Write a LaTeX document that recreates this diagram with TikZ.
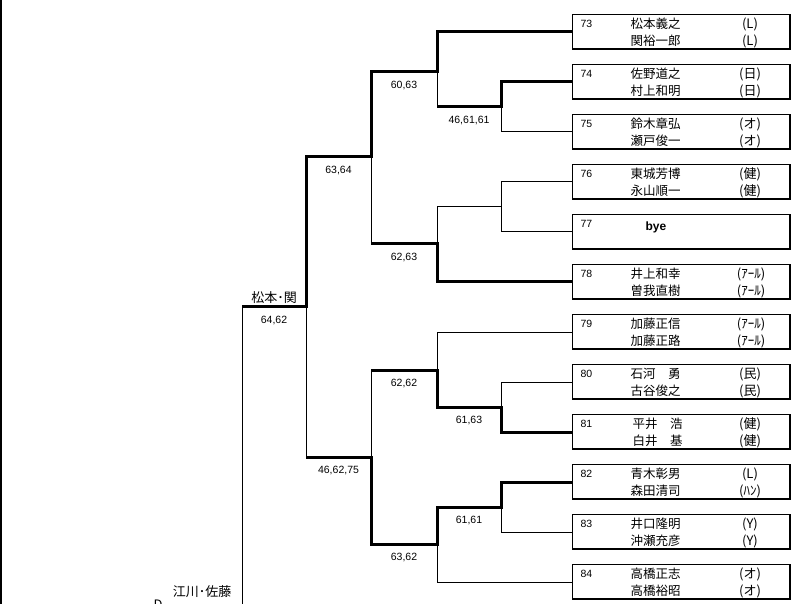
\documentclass[tikz,border=0pt]{standalone}
\usepackage{fontspec}
\setmainfont{Liberation Sans}
\newfontfamily\jfont{Noto Sans CJK JP}
\usepackage{tikz}
\usetikzlibrary{calc}
\usetikzlibrary{positioning}

\begin{document}
\begin{tikzpicture}[x=1pt, y=-1pt, line width=1pt,
        win/.style={line width=3pt},
        entry/.style={draw, fill=white, anchor=north west, inner sep=0pt,
                      minimum width=218pt, minimum height=35pt,
                      path picture={\draw[line width=3pt] (path picture bounding box.south west)
                          -- (path picture bounding box.south east) -- (path picture bounding box.north east);}},
        seed/.style={anchor=west, inner sep=0pt, font=\fontsize{10.5}{10.5}\selectfont},
        player/.style={anchor=west, inner sep=0pt, font=\jfont\fontsize{12.5}{12.5}\selectfont},
        club/.style={inner sep=0pt, font=\jfont\fontsize{13}{13}\selectfont},
        score/.style={midway, below=7.5pt, inner sep=0pt, font=\fontsize{10.5}{10.5}\selectfont},
        pair/.style={inner sep=0pt, font=\jfont\fontsize{13}{13}\selectfont}]
            \useasboundingbox (0,0) rectangle (801,604);
            \clip (0,0) rectangle (801,604);
            \draw[line width=2pt] (1,0) -- (1,604);

            % entries
            \node[entry] (e73) at (572, 14) {}; \node[seed] (n73) at (580, 24) {73};
            \node[player] (t73a) at (630, 24) {松本義之}; \node[club] (a73a) at (750, 24) {(L)};
            \node[player] (t73b) at (630, 41) {関裕一郎}; \node[club] (a73b) at (750, 41) {(L)};
            \node[entry] (e74) at (572, 64) {}; \node[seed] (n74) at (580, 74) {74};
            \node[player] (t74a) at (630, 74) {佐野道之}; \node[club] (a74a) at (750, 74) {(日)};
            \node[player] (t74b) at (630, 91) {村上和明}; \node[club] (a74b) at (750, 91) {(日)};
            \node[entry] (e75) at (572,114) {}; \node[seed] (n75) at (580,124) {75};
            \node[player] (t75a) at (630,124) {鈴木章弘}; \node[club] (a75a) at (750,124) {(オ)};
            \node[player] (t75b) at (630,141) {瀬戸俊一}; \node[club] (a75b) at (750,141) {(オ)};
            \node[entry] (e76) at (572,164) {}; \node[seed] (n76) at (580,174) {76};
            \node[player] (t76a) at (630,174) {東城芳博}; \node[club] (a76a) at (750,174) {(健)};
            \node[player] (t76b) at (630,191) {永山順一}; \node[club] (a76b) at (750,191) {(健)};
            \node[entry] (e77) at (572,214) {}; \node[seed] (n77) at (580,224) {77};
            \node[inner sep=0pt, font=\bfseries\fontsize{12}{12}\selectfont] (b77) at (656,227) {bye};
            \node[entry] (e78) at (572,264) {}; \node[seed] (n78) at (580,274) {78};
            \node[player] (t78a) at (630,274) {井上和幸}; \node[club] (a78a) at (751,274) {(ｱｰﾙ)};
            \node[player] (t78b) at (630,291) {曽我直樹}; \node[club] (a78b) at (751,291) {(ｱｰﾙ)};
            \node[entry] (e79) at (572,314) {}; \node[seed] (n79) at (580,324) {79};
            \node[player] (t79a) at (630,324) {加藤正信}; \node[club] (a79a) at (751,324) {(ｱｰﾙ)};
            \node[player] (t79b) at (630,341) {加藤正路}; \node[club] (a79b) at (751,341) {(ｱｰﾙ)};
            \node[entry] (e80) at (572,364) {}; \node[seed] (n80) at (580,374) {80};
            \node[player] (t80a) at (630,374) {石河　勇}; \node[club] (a80a) at (750,374) {(民)};
            \node[player] (t80b) at (630,391) {古谷俊之}; \node[club] (a80b) at (750,391) {(民)};
            \node[entry] (e81) at (572,414) {}; \node[seed] (n81) at (580,424) {81};
            \node[player] (t81a) at (632,424) {平井　浩}; \node[club] (a81a) at (750,424) {(健)};
            \node[player] (t81b) at (632,441) {白井　基}; \node[club] (a81b) at (750,441) {(健)};
            \node[entry] (e82) at (572,464) {}; \node[seed] (n82) at (580,474) {82};
            \node[player] (t82a) at (630,474) {青木彰男}; \node[club] (a82a) at (750,474) {(L)};
            \node[player] (t82b) at (630,491) {森田清司}; \node[club] (a82b) at (750,491) {(ﾊﾝ)};
            \node[entry] (e83) at (572,514) {}; \node[seed] (n83) at (580,524) {83};
            \node[player] (t83a) at (630,524) {井口隆明}; \node[club] (a83a) at (750,524) {(Y)};
            \node[player] (t83b) at (630,541) {沖瀬充彦}; \node[club] (a83b) at (750,541) {(Y)};
            \node[entry] (e84) at (572,564) {}; \node[seed] (n84) at (580,574) {84};
            \node[player] (t84a) at (630,574) {高橋正志}; \node[club] (a84a) at (750,574) {(オ)};
            \node[player] (t84b) at (630,591) {高橋裕昭}; \node[club] (a84b) at (750,591) {(オ)};

            % junctions
            \coordinate (q1)  at (501,107);
            \coordinate (q2)  at (437, 72);
            \coordinate (q3)  at (501,207);
            \coordinate (q4)  at (437,244);
            \coordinate (s1)  at (371,157);
            \coordinate (r1)  at (501,407);
            \coordinate (r2)  at (437,370);
            \coordinate (r3)  at (501,507);
            \coordinate (r4)  at (437,544);
            \coordinate (s2)  at (371,457);
            \coordinate (f1)  at (306,307);
            \coordinate (fin) at (242,307);
            \coordinate (bot) at (242,604);

            % upper half
            \draw[win] (e73.west) -| (q2) -| node[score, pos=0.25] (sc2) {60,63} (s1)
                 -| node[score, pos=0.25] (sc3) {63,64} (f1)
                 -- node[score] (sc4) {64,62} node[pair, midway, above=2pt] (w1) {松本･関} (fin);
            \draw[win] (e74.west) -| (q1) -- node[score] (sc1) {46,61,61} (q1 -| q2);
            \draw      (q1 -| q2) -- (q2);
            \draw      (e75.west) -| (q1);
            \draw      (e76.west) -| (q3);
            \draw      (e77.west) -| (q3) -| (q4);
            \draw[win] (e78.west) -| (q4) -- node[score] (sc5) {62,63} (q4 -| s1);
            \draw      (q4 -| s1) -- (s1);

            % lower half
            \draw      (e79.west) -| (r2);
            \draw      (e80.west) -| (r1);
            \draw[win] (e81.west) -| (r1) -| node[score, pos=0.25] (sc6) {61,63} (r2)
                 -- node[score] (sc7) {62,62} (r2 -| s2);
            \draw      (r2 -| s2) -- (s2);
            \draw[win] (e82.west) -| (r3) -| node[score, pos=0.25] (sc8) {61,61} (r4)
                 -| node[score, pos=0.25] (sc9) {63,62} (s2)
                 -- node[score] (sc10) {46,62,75} (s2 -| f1);
            \draw      (s2 -| f1) -- (f1);
            \draw      (e83.west) -| (r3);
            \draw      (e84.west) -| (r4);

            % final
            \draw (fin) -- (bot);
            \node[pair] (w2) at (202,592) {江川･佐藤};
            \node[pair, anchor=north] (d1) at (158,599) {D};
        \end{tikzpicture}
\end{document}
